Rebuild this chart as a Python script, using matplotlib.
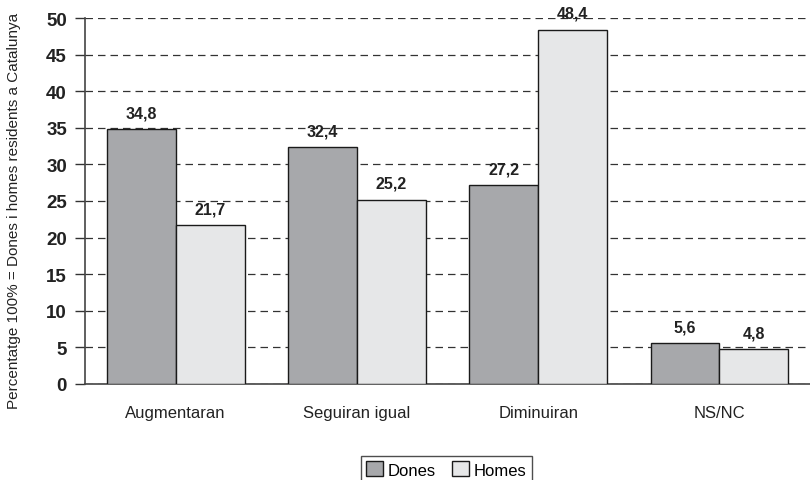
import matplotlib
matplotlib.use("Agg")
import matplotlib.pyplot as plt
import numpy as np

categories = ["Augmentaran", "Seguiran igual", "Diminuiran", "NS/NC"]
dones = [34.8, 32.4, 27.2, 5.6]
homes = [21.7, 25.2, 48.4, 4.8]
yticks = [0, 5, 10, 15, 20, 25, 30, 35, 40, 45, 50]

def fmt(v):
    return f"{v:.1f}".replace(".", ",")

narrow = ["Liberation Sans Narrow", "Liberation Sans", "DejaVu Sans"]
plt.rcParams['font.family'] = ["Liberation Sans", "DejaVu Sans"]

fig = plt.figure(figsize=(8.1, 4.81), dpi=100)
ax = fig.add_axes([85/810, 1-385/481, 1-85/810, (385-19)/481])

x = np.arange(len(categories))
w = 0.38
b1 = ax.bar(x - w/2, dones, w, color="#a7a8ab", edgecolor="#1a1a1a", linewidth=1.0, label="Dones", zorder=3)
b2 = ax.bar(x + w/2, homes, w, color="#e6e7e8", edgecolor="#1a1a1a", linewidth=1.0, label="Homes", zorder=3)

for bars, vals in ((b1, dones), (b2, homes)):
    for r, v in zip(bars, vals):
        ax.text(r.get_x() + r.get_width()/2, v + 1.2, fmt(v), ha="center", va="bottom",
                fontsize=11.5, fontweight="bold", family=narrow, color="#222222")

ax.set_xlim(-0.5, 3.5)
ax.set_ylim(0, 50)
ax.set_yticks(yticks)
ax.set_yticklabels([str(t) for t in yticks], fontsize=13.5, fontweight="bold", family=narrow, color="#222222")
ax.set_xticks(x)
ax.set_xticklabels(categories, fontsize=12, color="#222222")
ax.tick_params(axis="x", length=0, pad=15)
ax.tick_params(axis="y", length=7, width=1, color="#333333", pad=6)

ax.yaxis.grid(True, linestyle=(0, (6, 4)), color="#333333", linewidth=0.9, zorder=0)
ax.set_axisbelow(True)
for s in ("top", "right"):
    ax.spines[s].set_visible(False)
ax.spines["left"].set_color("#444444")
ax.spines["bottom"].set_color("#444444")
ax.spines["left"].set_linewidth(1.2)
ax.spines["bottom"].set_linewidth(1.2)

ax.set_ylabel("Percentatge 100% = Dones i homes residents a Catalunya", fontsize=11, color="#222222", labelpad=12)
ax.yaxis.set_label_coords(-0.088, 0.475)

leg = fig.legend(handles=[b1, b2], loc="center", bbox_to_anchor=(0.551, 0.022), ncol=2,
                 frameon=True, fancybox=False, edgecolor="#222222", fontsize=12,
                 handlelength=1.0, handleheight=1.0, handletextpad=0.3, columnspacing=1.0,
                 borderpad=0.3)
leg.get_frame().set_linewidth(1.0)

fig.savefig("out.png", dpi=100)
